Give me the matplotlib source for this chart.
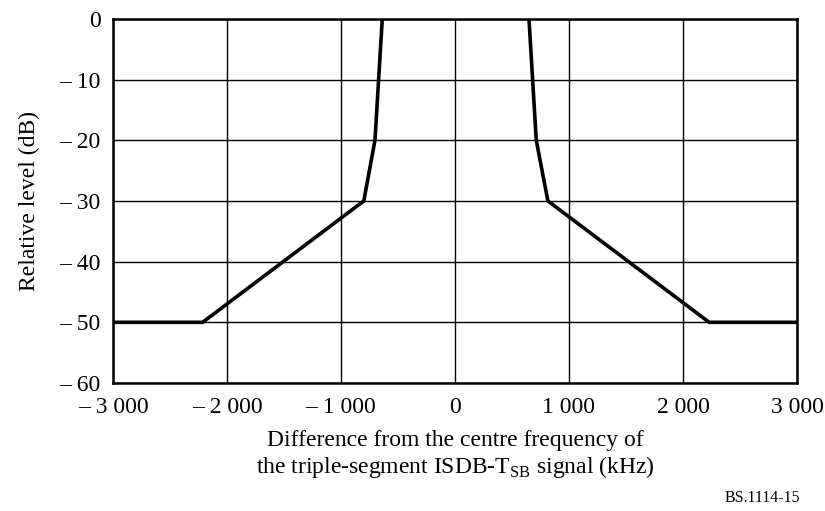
import matplotlib
matplotlib.use("Agg")
import matplotlib.pyplot as plt

# Data
freq_khz = [-3000, -2214, -800, -702, -638, 649, 713, 815, 2230, 3000]
level_db = [-50, -50, -30, -20, 0, 0, -20, -30, -50, -50]

x_ticks = [-3000, -2000, -1000, 0, 1000, 2000, 3000]
x_tick_labels = ["\u2013 3 000", "\u2013 2 000", "\u2013 1 000", "0", "1 000", "2 000", "3 000"]
y_ticks = [0, -10, -20, -30, -40, -50, -60]
y_tick_labels = ["0", "\u2013 10", "\u2013 20", "\u2013 30", "\u2013 40", "\u2013 50", "\u2013 60"]

plt.rcParams['font.family'] = ['Liberation Serif', 'DejaVu Serif']

fig = plt.figure(figsize=(8.25, 5.11), dpi=100)
ax = fig.add_axes([0.137, 0.2505, 0.829, 0.7125])

# left and right skirts (the top segment coincides with the frame)
ax.plot(freq_khz[:5], level_db[:5], color='black', linewidth=2.6, solid_joinstyle='miter', zorder=3)
ax.plot(freq_khz[5:], level_db[5:], color='black', linewidth=2.6, solid_joinstyle='miter', zorder=3)

ax.set_xlim(-3000, 3000)
ax.set_ylim(-60, 0)
ax.set_xticks(x_ticks)
ax.set_xticklabels(x_tick_labels)
ax.set_yticks(y_ticks)
ax.set_yticklabels(y_tick_labels)
ax.tick_params(length=0, labelsize=17, colors='black')
ax.tick_params(axis='x', pad=10)
ax.tick_params(axis='y', pad=9)
ax.grid(True, color='black', linewidth=1.0)
for s in ax.spines.values():
    s.set_linewidth(1.8)
    s.set_zorder(4)

ax.set_ylabel("Relative level (dB)", fontsize=17, labelpad=14)
ax.set_xlabel("Difference from the centre frequency of\nthe triple-segment ISDB-T$_{\\mathregular{SB}}$ signal (kHz)",
              fontsize=17, labelpad=9, linespacing=1.12)

fig.text(0.97, 0.01, "BS.1114-15", ha='right', va='bottom', fontsize=11.5)

fig.savefig("out.png", dpi=100)
